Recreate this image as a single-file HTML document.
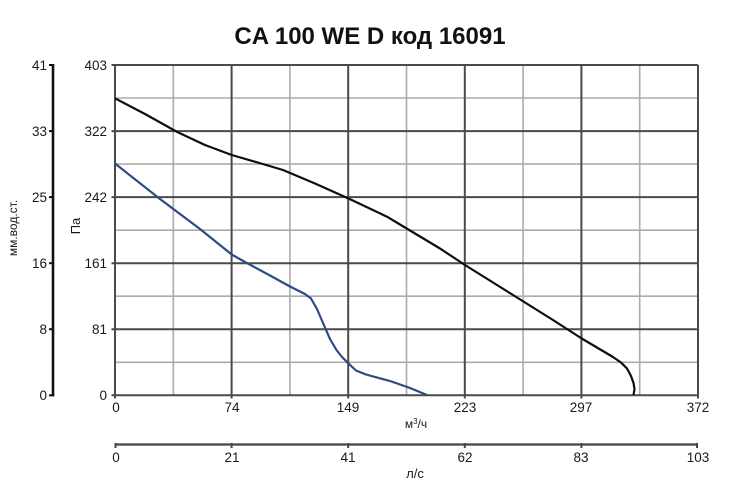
<!DOCTYPE html>
<html><head><meta charset="utf-8"><style>
html,body{margin:0;padding:0;background:#fff;}
svg{display:block;}
text{font-family:"Liberation Sans",Arial,sans-serif;fill:#1a1a1a;}
</style></head><body>
<svg width="750" height="491" viewBox="0 0 750 491" xmlns="http://www.w3.org/2000/svg">
<rect width="750" height="491" fill="#fff"/>
<text x="370" y="44" font-size="24" font-weight="bold" text-anchor="middle" style="fill:#111">CA 100 WE D код 16091</text>
<!-- minor grid -->
<g stroke="#ababab" stroke-width="1.6">
<line x1="173.3" y1="65" x2="173.3" y2="395.3"/>
<line x1="289.9" y1="65" x2="289.9" y2="395.3"/>
<line x1="406.5" y1="65" x2="406.5" y2="395.3"/>
<line x1="523.1" y1="65" x2="523.1" y2="395.3"/>
<line x1="639.7" y1="65" x2="639.7" y2="395.3"/>
<line x1="115" y1="98" x2="698" y2="98"/>
<line x1="115" y1="164.1" x2="698" y2="164.1"/>
<line x1="115" y1="230.2" x2="698" y2="230.2"/>
<line x1="115" y1="296.2" x2="698" y2="296.2"/>
<line x1="115" y1="362.3" x2="698" y2="362.3"/>
</g>
<!-- major grid -->
<g stroke="#4a4a4a" stroke-width="2">
<line x1="231.6" y1="65" x2="231.6" y2="398.5"/>
<line x1="348.2" y1="65" x2="348.2" y2="398.5"/>
<line x1="464.8" y1="65" x2="464.8" y2="398.5"/>
<line x1="581.4" y1="65" x2="581.4" y2="398.5"/>
<line x1="698" y1="65" x2="698" y2="398.5"/>
<line x1="115" y1="65" x2="115" y2="398.5"/>
<line x1="111.5" y1="65" x2="698" y2="65"/>
<line x1="111.5" y1="131.1" x2="698" y2="131.1"/>
<line x1="111.5" y1="197.1" x2="698" y2="197.1"/>
<line x1="111.5" y1="263.2" x2="698" y2="263.2"/>
<line x1="111.5" y1="329.2" x2="698" y2="329.2"/>
<line x1="111.5" y1="395.3" x2="698" y2="395.3"/>
</g>
<!-- curves -->
<polyline fill="none" stroke="#2d4a86" stroke-width="2.2" stroke-linejoin="round" points="115,163.5 160,199 200,229 231.7,254.5 245,262 270,275.5 290,286.5 305,294 311,298.5 317,309 323,323 330,339 336.5,350 342,357 348,363 356,370.5 366,374.5 390,381 410,388 427,395"/>
<polyline fill="none" stroke="#0d0d0d" stroke-width="2.2" stroke-linejoin="round" points="115,98.3 145,114 176.7,131.7 205,145 231.7,155 256,162 283,170 315,183.5 348,198.3 387,216.7 410,230.5 440,248.5 465,265 553,320 581.7,338.5 613,357 621,362.5 627,368.5 631,376 633.5,383 634.5,389 633.5,395"/>
<!-- Pa labels -->
<g font-size="13.5" text-anchor="end">
<text x="107" y="70">403</text>
<text x="107" y="136">322</text>
<text x="107" y="202">242</text>
<text x="107" y="268">161</text>
<text x="107" y="334">81</text>
<text x="107" y="400">0</text>
</g>
<text transform="translate(80,226) rotate(-90)" font-size="13" text-anchor="middle">Па</text>
<!-- left mm axis -->
<line x1="53" y1="64" x2="53" y2="396.5" stroke="#111" stroke-width="2.6"/>
<g stroke="#111" stroke-width="2">
<line x1="49" y1="65" x2="53" y2="65"/>
<line x1="49" y1="131.1" x2="53" y2="131.1"/>
<line x1="49" y1="197.1" x2="53" y2="197.1"/>
<line x1="49" y1="263.2" x2="53" y2="263.2"/>
<line x1="49" y1="329.2" x2="53" y2="329.2"/>
<line x1="49" y1="395.3" x2="53" y2="395.3"/>
</g>
<g font-size="13.5" text-anchor="end">
<text x="47" y="70">41</text>
<text x="47" y="136">33</text>
<text x="47" y="202">25</text>
<text x="47" y="268">16</text>
<text x="47" y="334">8</text>
<text x="47" y="400">0</text>
</g>
<text transform="translate(17,228) rotate(-90)" font-size="12" text-anchor="middle">мм.вод.ст.</text>
<!-- bottom axis 1 labels -->
<g font-size="13.5" text-anchor="middle">
<text x="116" y="412">0</text>
<text x="232" y="412">74</text>
<text x="348" y="412">149</text>
<text x="465" y="412">223</text>
<text x="581" y="412">297</text>
<text x="698" y="412">372</text>
</g>
<text x="416" y="428" font-size="12" text-anchor="middle">м<tspan font-size="8" dy="-4">3</tspan><tspan dy="4">/ч</tspan></text>
<!-- second bottom axis -->
<line x1="115" y1="444.5" x2="698" y2="444.5" stroke="#444" stroke-width="2.2"/>
<g stroke="#444" stroke-width="2">
<line x1="115.5" y1="443" x2="115.5" y2="448"/>
<line x1="231.6" y1="443" x2="231.6" y2="448"/>
<line x1="348.2" y1="443" x2="348.2" y2="448"/>
<line x1="464.8" y1="443" x2="464.8" y2="448"/>
<line x1="581.4" y1="443" x2="581.4" y2="448"/>
<line x1="697" y1="443" x2="697" y2="448"/>
</g>
<g font-size="13.5" text-anchor="middle">
<text x="116" y="462">0</text>
<text x="232" y="462">21</text>
<text x="348" y="462">41</text>
<text x="465" y="462">62</text>
<text x="581" y="462">83</text>
<text x="698" y="462">103</text>
</g>
<text x="415" y="478" font-size="13" text-anchor="middle">л/с</text>
</svg>
</body></html>
